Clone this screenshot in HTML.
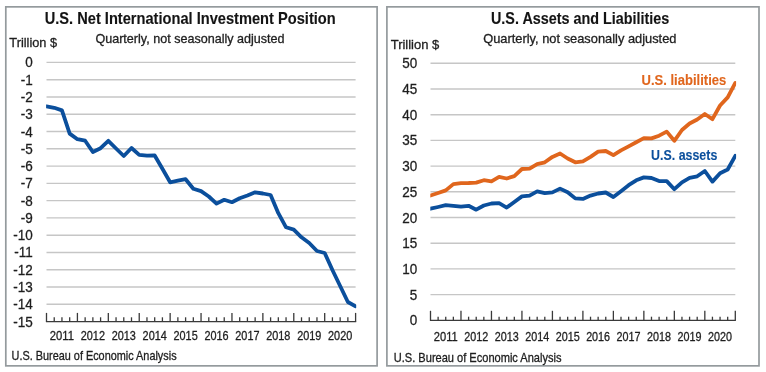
<!DOCTYPE html>
<html><head><meta charset="utf-8"><title>U.S. Net International Investment Position</title>
<style>
html,body{margin:0;padding:0;background:#fff;width:766px;height:372px;overflow:hidden}
svg text{font-family:"Liberation Sans",sans-serif}
svg{will-change:transform}
</style></head><body>
<svg width="766" height="372" viewBox="0 0 766 372" style="display:block">
<rect x="5.8" y="6.85" width="371.3" height="359" fill="none" stroke="#949a9d" stroke-width="1.7"/>
<rect x="386.9" y="6.85" width="372.1" height="359" fill="none" stroke="#949a9d" stroke-width="1.7"/>
<line x1="46.5" y1="62.40" x2="355.6" y2="62.40" stroke="#c6c6c6" stroke-width="1.4"/>
<line x1="46.5" y1="79.68" x2="355.6" y2="79.68" stroke="#c6c6c6" stroke-width="1.4"/>
<line x1="46.5" y1="96.96" x2="355.6" y2="96.96" stroke="#c6c6c6" stroke-width="1.4"/>
<line x1="46.5" y1="114.24" x2="355.6" y2="114.24" stroke="#c6c6c6" stroke-width="1.4"/>
<line x1="46.5" y1="131.52" x2="355.6" y2="131.52" stroke="#c6c6c6" stroke-width="1.4"/>
<line x1="46.5" y1="148.80" x2="355.6" y2="148.80" stroke="#c6c6c6" stroke-width="1.4"/>
<line x1="46.5" y1="166.08" x2="355.6" y2="166.08" stroke="#c6c6c6" stroke-width="1.4"/>
<line x1="46.5" y1="183.36" x2="355.6" y2="183.36" stroke="#c6c6c6" stroke-width="1.4"/>
<line x1="46.5" y1="200.64" x2="355.6" y2="200.64" stroke="#c6c6c6" stroke-width="1.4"/>
<line x1="46.5" y1="217.92" x2="355.6" y2="217.92" stroke="#c6c6c6" stroke-width="1.4"/>
<line x1="46.5" y1="235.20" x2="355.6" y2="235.20" stroke="#c6c6c6" stroke-width="1.4"/>
<line x1="46.5" y1="252.48" x2="355.6" y2="252.48" stroke="#c6c6c6" stroke-width="1.4"/>
<line x1="46.5" y1="269.76" x2="355.6" y2="269.76" stroke="#c6c6c6" stroke-width="1.4"/>
<line x1="46.5" y1="287.04" x2="355.6" y2="287.04" stroke="#c6c6c6" stroke-width="1.4"/>
<line x1="46.5" y1="304.32" x2="355.6" y2="304.32" stroke="#c6c6c6" stroke-width="1.4"/>
<line x1="45.9" y1="321.60" x2="356.20000000000005" y2="321.60" stroke="#3a3a3a" stroke-width="1.3"/>
<line x1="46.50" y1="312.90" x2="46.50" y2="321.60" stroke="#3a3a3a" stroke-width="1.3"/>
<line x1="54.23" y1="317.30" x2="54.23" y2="321.60" stroke="#3a3a3a" stroke-width="1.3"/>
<line x1="61.95" y1="317.30" x2="61.95" y2="321.60" stroke="#3a3a3a" stroke-width="1.3"/>
<line x1="69.68" y1="317.30" x2="69.68" y2="321.60" stroke="#3a3a3a" stroke-width="1.3"/>
<line x1="77.41" y1="312.90" x2="77.41" y2="321.60" stroke="#3a3a3a" stroke-width="1.3"/>
<line x1="85.14" y1="317.30" x2="85.14" y2="321.60" stroke="#3a3a3a" stroke-width="1.3"/>
<line x1="92.87" y1="317.30" x2="92.87" y2="321.60" stroke="#3a3a3a" stroke-width="1.3"/>
<line x1="100.59" y1="317.30" x2="100.59" y2="321.60" stroke="#3a3a3a" stroke-width="1.3"/>
<line x1="108.32" y1="312.90" x2="108.32" y2="321.60" stroke="#3a3a3a" stroke-width="1.3"/>
<line x1="116.05" y1="317.30" x2="116.05" y2="321.60" stroke="#3a3a3a" stroke-width="1.3"/>
<line x1="123.78" y1="317.30" x2="123.78" y2="321.60" stroke="#3a3a3a" stroke-width="1.3"/>
<line x1="131.50" y1="317.30" x2="131.50" y2="321.60" stroke="#3a3a3a" stroke-width="1.3"/>
<line x1="139.23" y1="312.90" x2="139.23" y2="321.60" stroke="#3a3a3a" stroke-width="1.3"/>
<line x1="146.96" y1="317.30" x2="146.96" y2="321.60" stroke="#3a3a3a" stroke-width="1.3"/>
<line x1="154.69" y1="317.30" x2="154.69" y2="321.60" stroke="#3a3a3a" stroke-width="1.3"/>
<line x1="162.41" y1="317.30" x2="162.41" y2="321.60" stroke="#3a3a3a" stroke-width="1.3"/>
<line x1="170.14" y1="312.90" x2="170.14" y2="321.60" stroke="#3a3a3a" stroke-width="1.3"/>
<line x1="177.87" y1="317.30" x2="177.87" y2="321.60" stroke="#3a3a3a" stroke-width="1.3"/>
<line x1="185.60" y1="317.30" x2="185.60" y2="321.60" stroke="#3a3a3a" stroke-width="1.3"/>
<line x1="193.32" y1="317.30" x2="193.32" y2="321.60" stroke="#3a3a3a" stroke-width="1.3"/>
<line x1="201.05" y1="312.90" x2="201.05" y2="321.60" stroke="#3a3a3a" stroke-width="1.3"/>
<line x1="208.78" y1="317.30" x2="208.78" y2="321.60" stroke="#3a3a3a" stroke-width="1.3"/>
<line x1="216.51" y1="317.30" x2="216.51" y2="321.60" stroke="#3a3a3a" stroke-width="1.3"/>
<line x1="224.23" y1="317.30" x2="224.23" y2="321.60" stroke="#3a3a3a" stroke-width="1.3"/>
<line x1="231.96" y1="312.90" x2="231.96" y2="321.60" stroke="#3a3a3a" stroke-width="1.3"/>
<line x1="239.69" y1="317.30" x2="239.69" y2="321.60" stroke="#3a3a3a" stroke-width="1.3"/>
<line x1="247.42" y1="317.30" x2="247.42" y2="321.60" stroke="#3a3a3a" stroke-width="1.3"/>
<line x1="255.14" y1="317.30" x2="255.14" y2="321.60" stroke="#3a3a3a" stroke-width="1.3"/>
<line x1="262.87" y1="312.90" x2="262.87" y2="321.60" stroke="#3a3a3a" stroke-width="1.3"/>
<line x1="270.60" y1="317.30" x2="270.60" y2="321.60" stroke="#3a3a3a" stroke-width="1.3"/>
<line x1="278.33" y1="317.30" x2="278.33" y2="321.60" stroke="#3a3a3a" stroke-width="1.3"/>
<line x1="286.05" y1="317.30" x2="286.05" y2="321.60" stroke="#3a3a3a" stroke-width="1.3"/>
<line x1="293.78" y1="312.90" x2="293.78" y2="321.60" stroke="#3a3a3a" stroke-width="1.3"/>
<line x1="301.51" y1="317.30" x2="301.51" y2="321.60" stroke="#3a3a3a" stroke-width="1.3"/>
<line x1="309.24" y1="317.30" x2="309.24" y2="321.60" stroke="#3a3a3a" stroke-width="1.3"/>
<line x1="316.96" y1="317.30" x2="316.96" y2="321.60" stroke="#3a3a3a" stroke-width="1.3"/>
<line x1="324.69" y1="312.90" x2="324.69" y2="321.60" stroke="#3a3a3a" stroke-width="1.3"/>
<line x1="332.42" y1="317.30" x2="332.42" y2="321.60" stroke="#3a3a3a" stroke-width="1.3"/>
<line x1="340.15" y1="317.30" x2="340.15" y2="321.60" stroke="#3a3a3a" stroke-width="1.3"/>
<line x1="347.87" y1="317.30" x2="347.87" y2="321.60" stroke="#3a3a3a" stroke-width="1.3"/>
<line x1="355.60" y1="312.90" x2="355.60" y2="321.60" stroke="#3a3a3a" stroke-width="1.3"/>
<g transform="translate(32.7,67.40) scale(0.93,1)"><text x="0" y="0" font-size="14.5" font-weight="normal" text-anchor="end" fill="#1e1e1e" stroke="#1e1e1e" stroke-width="0.3">0</text></g>
<g transform="translate(32.7,84.68) scale(0.93,1)"><text x="0" y="0" font-size="14.5" font-weight="normal" text-anchor="end" fill="#1e1e1e" stroke="#1e1e1e" stroke-width="0.3">-1</text></g>
<g transform="translate(32.7,101.96) scale(0.93,1)"><text x="0" y="0" font-size="14.5" font-weight="normal" text-anchor="end" fill="#1e1e1e" stroke="#1e1e1e" stroke-width="0.3">-2</text></g>
<g transform="translate(32.7,119.24) scale(0.93,1)"><text x="0" y="0" font-size="14.5" font-weight="normal" text-anchor="end" fill="#1e1e1e" stroke="#1e1e1e" stroke-width="0.3">-3</text></g>
<g transform="translate(32.7,136.52) scale(0.93,1)"><text x="0" y="0" font-size="14.5" font-weight="normal" text-anchor="end" fill="#1e1e1e" stroke="#1e1e1e" stroke-width="0.3">-4</text></g>
<g transform="translate(32.7,153.80) scale(0.93,1)"><text x="0" y="0" font-size="14.5" font-weight="normal" text-anchor="end" fill="#1e1e1e" stroke="#1e1e1e" stroke-width="0.3">-5</text></g>
<g transform="translate(32.7,171.08) scale(0.93,1)"><text x="0" y="0" font-size="14.5" font-weight="normal" text-anchor="end" fill="#1e1e1e" stroke="#1e1e1e" stroke-width="0.3">-6</text></g>
<g transform="translate(32.7,188.36) scale(0.93,1)"><text x="0" y="0" font-size="14.5" font-weight="normal" text-anchor="end" fill="#1e1e1e" stroke="#1e1e1e" stroke-width="0.3">-7</text></g>
<g transform="translate(32.7,205.64) scale(0.93,1)"><text x="0" y="0" font-size="14.5" font-weight="normal" text-anchor="end" fill="#1e1e1e" stroke="#1e1e1e" stroke-width="0.3">-8</text></g>
<g transform="translate(32.7,222.92) scale(0.93,1)"><text x="0" y="0" font-size="14.5" font-weight="normal" text-anchor="end" fill="#1e1e1e" stroke="#1e1e1e" stroke-width="0.3">-9</text></g>
<g transform="translate(32.7,240.20) scale(0.93,1)"><text x="0" y="0" font-size="14.5" font-weight="normal" text-anchor="end" fill="#1e1e1e" stroke="#1e1e1e" stroke-width="0.3">-10</text></g>
<g transform="translate(32.7,257.48) scale(0.93,1)"><text x="0" y="0" font-size="14.5" font-weight="normal" text-anchor="end" fill="#1e1e1e" stroke="#1e1e1e" stroke-width="0.3">-11</text></g>
<g transform="translate(32.7,274.76) scale(0.93,1)"><text x="0" y="0" font-size="14.5" font-weight="normal" text-anchor="end" fill="#1e1e1e" stroke="#1e1e1e" stroke-width="0.3">-12</text></g>
<g transform="translate(32.7,292.04) scale(0.93,1)"><text x="0" y="0" font-size="14.5" font-weight="normal" text-anchor="end" fill="#1e1e1e" stroke="#1e1e1e" stroke-width="0.3">-13</text></g>
<g transform="translate(32.7,309.32) scale(0.93,1)"><text x="0" y="0" font-size="14.5" font-weight="normal" text-anchor="end" fill="#1e1e1e" stroke="#1e1e1e" stroke-width="0.3">-14</text></g>
<g transform="translate(32.7,326.60) scale(0.93,1)"><text x="0" y="0" font-size="14.5" font-weight="normal" text-anchor="end" fill="#1e1e1e" stroke="#1e1e1e" stroke-width="0.3">-15</text></g>
<text x="61.95" y="340.3" font-size="12.4" font-weight="normal" text-anchor="middle" fill="#1e1e1e" stroke="#1e1e1e" stroke-width="0.3" textLength="24.2" lengthAdjust="spacingAndGlyphs">2011</text>
<text x="92.87" y="340.3" font-size="12.4" font-weight="normal" text-anchor="middle" fill="#1e1e1e" stroke="#1e1e1e" stroke-width="0.3" textLength="24.2" lengthAdjust="spacingAndGlyphs">2012</text>
<text x="123.78" y="340.3" font-size="12.4" font-weight="normal" text-anchor="middle" fill="#1e1e1e" stroke="#1e1e1e" stroke-width="0.3" textLength="24.2" lengthAdjust="spacingAndGlyphs">2013</text>
<text x="154.69" y="340.3" font-size="12.4" font-weight="normal" text-anchor="middle" fill="#1e1e1e" stroke="#1e1e1e" stroke-width="0.3" textLength="24.2" lengthAdjust="spacingAndGlyphs">2014</text>
<text x="185.60" y="340.3" font-size="12.4" font-weight="normal" text-anchor="middle" fill="#1e1e1e" stroke="#1e1e1e" stroke-width="0.3" textLength="24.2" lengthAdjust="spacingAndGlyphs">2015</text>
<text x="216.51" y="340.3" font-size="12.4" font-weight="normal" text-anchor="middle" fill="#1e1e1e" stroke="#1e1e1e" stroke-width="0.3" textLength="24.2" lengthAdjust="spacingAndGlyphs">2016</text>
<text x="247.42" y="340.3" font-size="12.4" font-weight="normal" text-anchor="middle" fill="#1e1e1e" stroke="#1e1e1e" stroke-width="0.3" textLength="24.2" lengthAdjust="spacingAndGlyphs">2017</text>
<text x="278.33" y="340.3" font-size="12.4" font-weight="normal" text-anchor="middle" fill="#1e1e1e" stroke="#1e1e1e" stroke-width="0.3" textLength="24.2" lengthAdjust="spacingAndGlyphs">2018</text>
<text x="309.24" y="340.3" font-size="12.4" font-weight="normal" text-anchor="middle" fill="#1e1e1e" stroke="#1e1e1e" stroke-width="0.3" textLength="24.2" lengthAdjust="spacingAndGlyphs">2019</text>
<text x="340.15" y="340.3" font-size="12.4" font-weight="normal" text-anchor="middle" fill="#1e1e1e" stroke="#1e1e1e" stroke-width="0.3" textLength="24.2" lengthAdjust="spacingAndGlyphs">2020</text>
<clipPath id="cl"><rect x="46.1" y="40" width="310.1" height="290"/></clipPath>
<polyline clip-path="url(#cl)" points="46.50,106.30 54.23,107.80 61.95,110.40 69.68,133.60 77.41,139.20 85.14,140.70 92.87,152.00 100.59,148.20 108.32,140.80 116.05,148.50 123.78,156.00 131.50,148.00 139.23,154.90 146.96,155.60 154.69,155.50 162.41,168.80 170.14,182.30 177.87,180.70 185.60,179.20 193.32,188.70 201.05,191.10 208.78,196.50 216.51,203.60 224.23,199.80 231.96,202.20 239.69,198.20 247.42,195.50 255.14,192.30 262.87,193.50 270.60,195.00 278.33,213.20 286.05,227.30 293.78,229.60 301.51,237.30 309.24,243.00 316.96,251.00 324.69,253.00 332.42,270.00 340.15,286.00 347.87,302.00 355.60,306.30" fill="none" stroke="#0b4f9c" stroke-width="3.8" stroke-linejoin="round" stroke-linecap="round"/>
<text x="44.7" y="24.1" font-size="16.2" font-weight="bold" text-anchor="start" fill="#141414" stroke="#141414" stroke-width="0.12" textLength="291" lengthAdjust="spacingAndGlyphs">U.S. Net International Investment Position</text>
<text x="95.4" y="42.6" font-size="12.6" font-weight="normal" text-anchor="start" fill="#1e1e1e" stroke="#1e1e1e" stroke-width="0.3" textLength="189.2" lengthAdjust="spacingAndGlyphs">Quarterly, not seasonally adjusted</text>
<text x="9.3" y="47.4" font-size="12.9" font-weight="normal" text-anchor="start" fill="#1e1e1e" stroke="#1e1e1e" stroke-width="0.3" textLength="47.8" lengthAdjust="spacingAndGlyphs">Trillion $</text>
<text x="11.6" y="360.2" font-size="11.9" font-weight="normal" text-anchor="start" fill="#1e1e1e" stroke="#1e1e1e" stroke-width="0.3" textLength="165" lengthAdjust="spacingAndGlyphs">U.S. Bureau of Economic Analysis</text>
<line x1="430.5" y1="63.30" x2="735.3" y2="63.30" stroke="#c6c6c6" stroke-width="1.4"/>
<line x1="430.5" y1="89.00" x2="735.3" y2="89.00" stroke="#c6c6c6" stroke-width="1.4"/>
<line x1="430.5" y1="114.70" x2="735.3" y2="114.70" stroke="#c6c6c6" stroke-width="1.4"/>
<line x1="430.5" y1="140.40" x2="735.3" y2="140.40" stroke="#c6c6c6" stroke-width="1.4"/>
<line x1="430.5" y1="166.10" x2="735.3" y2="166.10" stroke="#c6c6c6" stroke-width="1.4"/>
<line x1="430.5" y1="191.80" x2="735.3" y2="191.80" stroke="#c6c6c6" stroke-width="1.4"/>
<line x1="430.5" y1="217.50" x2="735.3" y2="217.50" stroke="#c6c6c6" stroke-width="1.4"/>
<line x1="430.5" y1="243.20" x2="735.3" y2="243.20" stroke="#c6c6c6" stroke-width="1.4"/>
<line x1="430.5" y1="268.90" x2="735.3" y2="268.90" stroke="#c6c6c6" stroke-width="1.4"/>
<line x1="430.5" y1="294.60" x2="735.3" y2="294.60" stroke="#c6c6c6" stroke-width="1.4"/>
<line x1="429.9" y1="320.30" x2="735.9" y2="320.30" stroke="#3a3a3a" stroke-width="1.3"/>
<line x1="430.50" y1="310.80" x2="430.50" y2="320.30" stroke="#3a3a3a" stroke-width="1.3"/>
<line x1="438.12" y1="316.70" x2="438.12" y2="320.30" stroke="#3a3a3a" stroke-width="1.3"/>
<line x1="445.74" y1="316.70" x2="445.74" y2="320.30" stroke="#3a3a3a" stroke-width="1.3"/>
<line x1="453.36" y1="316.70" x2="453.36" y2="320.30" stroke="#3a3a3a" stroke-width="1.3"/>
<line x1="460.98" y1="310.80" x2="460.98" y2="320.30" stroke="#3a3a3a" stroke-width="1.3"/>
<line x1="468.60" y1="316.70" x2="468.60" y2="320.30" stroke="#3a3a3a" stroke-width="1.3"/>
<line x1="476.22" y1="316.70" x2="476.22" y2="320.30" stroke="#3a3a3a" stroke-width="1.3"/>
<line x1="483.84" y1="316.70" x2="483.84" y2="320.30" stroke="#3a3a3a" stroke-width="1.3"/>
<line x1="491.46" y1="310.80" x2="491.46" y2="320.30" stroke="#3a3a3a" stroke-width="1.3"/>
<line x1="499.08" y1="316.70" x2="499.08" y2="320.30" stroke="#3a3a3a" stroke-width="1.3"/>
<line x1="506.70" y1="316.70" x2="506.70" y2="320.30" stroke="#3a3a3a" stroke-width="1.3"/>
<line x1="514.32" y1="316.70" x2="514.32" y2="320.30" stroke="#3a3a3a" stroke-width="1.3"/>
<line x1="521.94" y1="310.80" x2="521.94" y2="320.30" stroke="#3a3a3a" stroke-width="1.3"/>
<line x1="529.56" y1="316.70" x2="529.56" y2="320.30" stroke="#3a3a3a" stroke-width="1.3"/>
<line x1="537.18" y1="316.70" x2="537.18" y2="320.30" stroke="#3a3a3a" stroke-width="1.3"/>
<line x1="544.80" y1="316.70" x2="544.80" y2="320.30" stroke="#3a3a3a" stroke-width="1.3"/>
<line x1="552.42" y1="310.80" x2="552.42" y2="320.30" stroke="#3a3a3a" stroke-width="1.3"/>
<line x1="560.04" y1="316.70" x2="560.04" y2="320.30" stroke="#3a3a3a" stroke-width="1.3"/>
<line x1="567.66" y1="316.70" x2="567.66" y2="320.30" stroke="#3a3a3a" stroke-width="1.3"/>
<line x1="575.28" y1="316.70" x2="575.28" y2="320.30" stroke="#3a3a3a" stroke-width="1.3"/>
<line x1="582.90" y1="310.80" x2="582.90" y2="320.30" stroke="#3a3a3a" stroke-width="1.3"/>
<line x1="590.52" y1="316.70" x2="590.52" y2="320.30" stroke="#3a3a3a" stroke-width="1.3"/>
<line x1="598.14" y1="316.70" x2="598.14" y2="320.30" stroke="#3a3a3a" stroke-width="1.3"/>
<line x1="605.76" y1="316.70" x2="605.76" y2="320.30" stroke="#3a3a3a" stroke-width="1.3"/>
<line x1="613.38" y1="310.80" x2="613.38" y2="320.30" stroke="#3a3a3a" stroke-width="1.3"/>
<line x1="621.00" y1="316.70" x2="621.00" y2="320.30" stroke="#3a3a3a" stroke-width="1.3"/>
<line x1="628.62" y1="316.70" x2="628.62" y2="320.30" stroke="#3a3a3a" stroke-width="1.3"/>
<line x1="636.24" y1="316.70" x2="636.24" y2="320.30" stroke="#3a3a3a" stroke-width="1.3"/>
<line x1="643.86" y1="310.80" x2="643.86" y2="320.30" stroke="#3a3a3a" stroke-width="1.3"/>
<line x1="651.48" y1="316.70" x2="651.48" y2="320.30" stroke="#3a3a3a" stroke-width="1.3"/>
<line x1="659.10" y1="316.70" x2="659.10" y2="320.30" stroke="#3a3a3a" stroke-width="1.3"/>
<line x1="666.72" y1="316.70" x2="666.72" y2="320.30" stroke="#3a3a3a" stroke-width="1.3"/>
<line x1="674.34" y1="310.80" x2="674.34" y2="320.30" stroke="#3a3a3a" stroke-width="1.3"/>
<line x1="681.96" y1="316.70" x2="681.96" y2="320.30" stroke="#3a3a3a" stroke-width="1.3"/>
<line x1="689.58" y1="316.70" x2="689.58" y2="320.30" stroke="#3a3a3a" stroke-width="1.3"/>
<line x1="697.20" y1="316.70" x2="697.20" y2="320.30" stroke="#3a3a3a" stroke-width="1.3"/>
<line x1="704.82" y1="310.80" x2="704.82" y2="320.30" stroke="#3a3a3a" stroke-width="1.3"/>
<line x1="712.44" y1="316.70" x2="712.44" y2="320.30" stroke="#3a3a3a" stroke-width="1.3"/>
<line x1="720.06" y1="316.70" x2="720.06" y2="320.30" stroke="#3a3a3a" stroke-width="1.3"/>
<line x1="727.68" y1="316.70" x2="727.68" y2="320.30" stroke="#3a3a3a" stroke-width="1.3"/>
<line x1="735.30" y1="310.80" x2="735.30" y2="320.30" stroke="#3a3a3a" stroke-width="1.3"/>
<g transform="translate(417.2,68.30) scale(0.93,1)"><text x="0" y="0" font-size="14.5" font-weight="normal" text-anchor="end" fill="#1e1e1e" stroke="#1e1e1e" stroke-width="0.3">50</text></g>
<g transform="translate(417.2,94.00) scale(0.93,1)"><text x="0" y="0" font-size="14.5" font-weight="normal" text-anchor="end" fill="#1e1e1e" stroke="#1e1e1e" stroke-width="0.3">45</text></g>
<g transform="translate(417.2,119.70) scale(0.93,1)"><text x="0" y="0" font-size="14.5" font-weight="normal" text-anchor="end" fill="#1e1e1e" stroke="#1e1e1e" stroke-width="0.3">40</text></g>
<g transform="translate(417.2,145.40) scale(0.93,1)"><text x="0" y="0" font-size="14.5" font-weight="normal" text-anchor="end" fill="#1e1e1e" stroke="#1e1e1e" stroke-width="0.3">35</text></g>
<g transform="translate(417.2,171.10) scale(0.93,1)"><text x="0" y="0" font-size="14.5" font-weight="normal" text-anchor="end" fill="#1e1e1e" stroke="#1e1e1e" stroke-width="0.3">30</text></g>
<g transform="translate(417.2,196.80) scale(0.93,1)"><text x="0" y="0" font-size="14.5" font-weight="normal" text-anchor="end" fill="#1e1e1e" stroke="#1e1e1e" stroke-width="0.3">25</text></g>
<g transform="translate(417.2,222.50) scale(0.93,1)"><text x="0" y="0" font-size="14.5" font-weight="normal" text-anchor="end" fill="#1e1e1e" stroke="#1e1e1e" stroke-width="0.3">20</text></g>
<g transform="translate(417.2,248.20) scale(0.93,1)"><text x="0" y="0" font-size="14.5" font-weight="normal" text-anchor="end" fill="#1e1e1e" stroke="#1e1e1e" stroke-width="0.3">15</text></g>
<g transform="translate(417.2,273.90) scale(0.93,1)"><text x="0" y="0" font-size="14.5" font-weight="normal" text-anchor="end" fill="#1e1e1e" stroke="#1e1e1e" stroke-width="0.3">10</text></g>
<g transform="translate(417.2,299.60) scale(0.93,1)"><text x="0" y="0" font-size="14.5" font-weight="normal" text-anchor="end" fill="#1e1e1e" stroke="#1e1e1e" stroke-width="0.3">5</text></g>
<g transform="translate(417.2,325.30) scale(0.93,1)"><text x="0" y="0" font-size="14.5" font-weight="normal" text-anchor="end" fill="#1e1e1e" stroke="#1e1e1e" stroke-width="0.3">0</text></g>
<text x="445.74" y="340.5" font-size="12.4" font-weight="normal" text-anchor="middle" fill="#1e1e1e" stroke="#1e1e1e" stroke-width="0.3" textLength="24.0" lengthAdjust="spacingAndGlyphs">2011</text>
<text x="476.22" y="340.5" font-size="12.4" font-weight="normal" text-anchor="middle" fill="#1e1e1e" stroke="#1e1e1e" stroke-width="0.3" textLength="24.0" lengthAdjust="spacingAndGlyphs">2012</text>
<text x="506.70" y="340.5" font-size="12.4" font-weight="normal" text-anchor="middle" fill="#1e1e1e" stroke="#1e1e1e" stroke-width="0.3" textLength="24.0" lengthAdjust="spacingAndGlyphs">2013</text>
<text x="537.18" y="340.5" font-size="12.4" font-weight="normal" text-anchor="middle" fill="#1e1e1e" stroke="#1e1e1e" stroke-width="0.3" textLength="24.0" lengthAdjust="spacingAndGlyphs">2014</text>
<text x="567.66" y="340.5" font-size="12.4" font-weight="normal" text-anchor="middle" fill="#1e1e1e" stroke="#1e1e1e" stroke-width="0.3" textLength="24.0" lengthAdjust="spacingAndGlyphs">2015</text>
<text x="598.14" y="340.5" font-size="12.4" font-weight="normal" text-anchor="middle" fill="#1e1e1e" stroke="#1e1e1e" stroke-width="0.3" textLength="24.0" lengthAdjust="spacingAndGlyphs">2016</text>
<text x="628.62" y="340.5" font-size="12.4" font-weight="normal" text-anchor="middle" fill="#1e1e1e" stroke="#1e1e1e" stroke-width="0.3" textLength="24.0" lengthAdjust="spacingAndGlyphs">2017</text>
<text x="659.10" y="340.5" font-size="12.4" font-weight="normal" text-anchor="middle" fill="#1e1e1e" stroke="#1e1e1e" stroke-width="0.3" textLength="24.0" lengthAdjust="spacingAndGlyphs">2018</text>
<text x="689.58" y="340.5" font-size="12.4" font-weight="normal" text-anchor="middle" fill="#1e1e1e" stroke="#1e1e1e" stroke-width="0.3" textLength="24.0" lengthAdjust="spacingAndGlyphs">2019</text>
<text x="720.06" y="340.5" font-size="12.4" font-weight="normal" text-anchor="middle" fill="#1e1e1e" stroke="#1e1e1e" stroke-width="0.3" textLength="24.0" lengthAdjust="spacingAndGlyphs">2020</text>
<clipPath id="cr"><rect x="430.3" y="40" width="305.79999999999995" height="290"/></clipPath>
<polyline clip-path="url(#cr)" points="430.50,195.50 438.12,193.00 445.74,190.40 453.36,184.10 460.98,183.20 468.60,183.00 476.22,182.60 483.84,180.20 491.46,181.30 499.08,176.90 506.70,178.50 514.32,176.10 521.94,169.00 529.56,168.70 537.18,164.20 544.80,162.30 552.42,156.90 560.04,153.50 567.66,158.50 575.28,162.30 582.90,161.30 590.52,156.90 598.14,151.60 605.76,151.00 613.38,155.20 621.00,150.40 628.62,146.30 636.24,142.30 643.86,138.20 651.48,138.40 659.10,135.70 666.72,131.60 674.34,140.80 681.96,130.00 689.58,123.50 697.20,119.50 704.82,114.00 712.44,119.20 720.06,105.50 727.68,97.40 735.30,82.90" fill="none" stroke="#e0661d" stroke-width="3.8" stroke-linejoin="round" stroke-linecap="round"/>
<polyline clip-path="url(#cr)" points="430.50,208.70 438.12,207.00 445.74,205.20 453.36,205.80 460.98,206.70 468.60,205.80 476.22,209.70 483.84,205.50 491.46,203.50 499.08,203.20 506.70,207.60 514.32,201.90 521.94,196.40 529.56,195.60 537.18,191.30 544.80,193.20 552.42,192.40 560.04,188.60 567.66,192.20 575.28,198.40 582.90,198.90 590.52,195.60 598.14,193.50 605.76,192.50 613.38,197.00 621.00,191.20 628.62,185.20 636.24,180.30 643.86,177.40 651.48,178.00 659.10,181.10 666.72,181.10 674.34,189.20 681.96,182.30 689.58,177.90 697.20,176.30 704.82,171.00 712.44,181.60 720.06,173.20 727.68,169.50 735.30,155.80" fill="none" stroke="#0b4f9c" stroke-width="3.8" stroke-linejoin="round" stroke-linecap="round"/>
<text x="491.0" y="24.1" font-size="16.2" font-weight="bold" text-anchor="start" fill="#141414" stroke="#141414" stroke-width="0.12" textLength="178.3" lengthAdjust="spacingAndGlyphs">U.S. Assets and Liabilities</text>
<text x="483.2" y="42.7" font-size="12.8" font-weight="normal" text-anchor="start" fill="#1e1e1e" stroke="#1e1e1e" stroke-width="0.3" textLength="193.3" lengthAdjust="spacingAndGlyphs">Quarterly, not seasonally adjusted</text>
<text x="390.7" y="48.7" font-size="13.1" font-weight="normal" text-anchor="start" fill="#1e1e1e" stroke="#1e1e1e" stroke-width="0.3" textLength="48.6" lengthAdjust="spacingAndGlyphs">Trillion $</text>
<text x="393.8" y="361.6" font-size="12.2" font-weight="normal" text-anchor="start" fill="#1e1e1e" stroke="#1e1e1e" stroke-width="0.3" textLength="167.7" lengthAdjust="spacingAndGlyphs">U.S. Bureau of Economic Analysis</text>
<text x="641.5" y="84.6" font-size="14.8" font-weight="bold" text-anchor="start" fill="#e0661d" stroke="#e0661d" stroke-width="0.12" textLength="84.8" lengthAdjust="spacingAndGlyphs">U.S. liabilities</text>
<text x="651.1" y="159.8" font-size="14.8" font-weight="bold" text-anchor="start" fill="#0b4f9c" stroke="#0b4f9c" stroke-width="0.12" textLength="66.2" lengthAdjust="spacingAndGlyphs">U.S. assets</text>
</svg>
</body></html>
